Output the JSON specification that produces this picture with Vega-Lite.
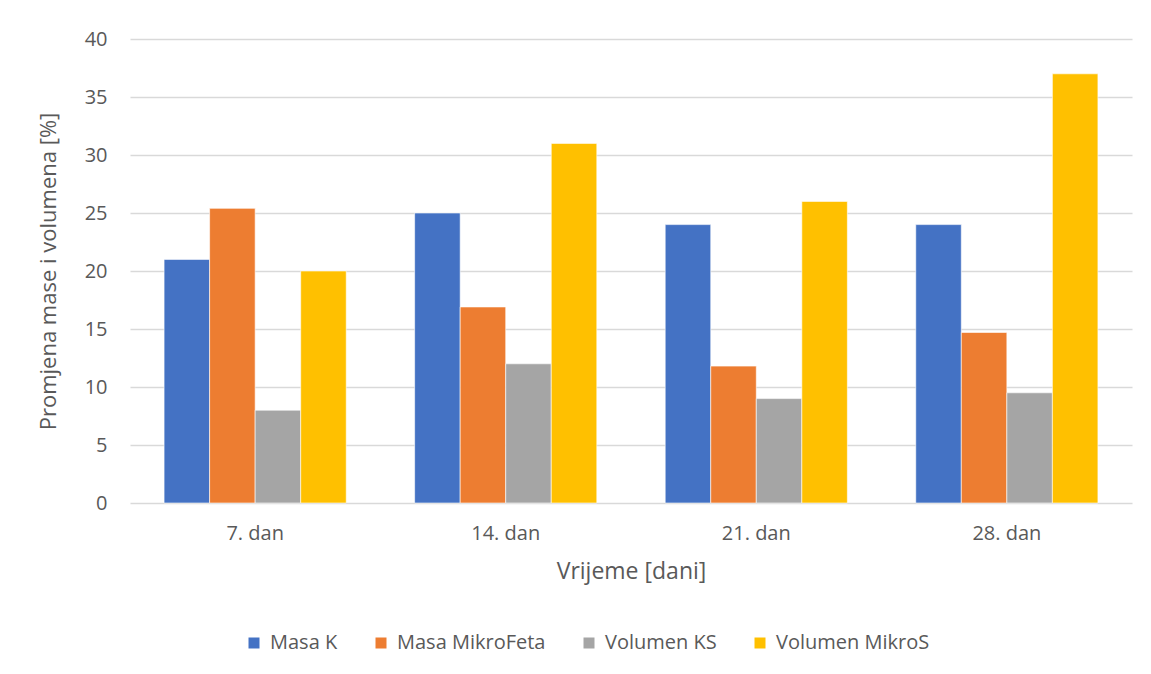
{
  "$schema": "https://vega.github.io/schema/vega-lite/v6.json",
  "width": 1002,
  "height": 464,
  "autosize": {"type": "none"},
  "padding": {"left": 130, "top": 39, "right": 19, "bottom": 171},
  "background": "white",
  "data": {
    "values": [
      {"dan": "7. dan", "serija": "Masa K", "v": 21},
      {"dan": "7. dan", "serija": "Masa MikroFeta", "v": 25.4},
      {"dan": "7. dan", "serija": "Volumen KS", "v": 8},
      {"dan": "7. dan", "serija": "Volumen MikroS", "v": 20},
      {"dan": "14. dan", "serija": "Masa K", "v": 25},
      {"dan": "14. dan", "serija": "Masa MikroFeta", "v": 16.9},
      {"dan": "14. dan", "serija": "Volumen KS", "v": 12},
      {"dan": "14. dan", "serija": "Volumen MikroS", "v": 31},
      {"dan": "21. dan", "serija": "Masa K", "v": 24},
      {"dan": "21. dan", "serija": "Masa MikroFeta", "v": 11.8},
      {"dan": "21. dan", "serija": "Volumen KS", "v": 9},
      {"dan": "21. dan", "serija": "Volumen MikroS", "v": 26},
      {"dan": "28. dan", "serija": "Masa K", "v": 24},
      {"dan": "28. dan", "serija": "Masa MikroFeta", "v": 14.7},
      {"dan": "28. dan", "serija": "Volumen KS", "v": 9.5},
      {"dan": "28. dan", "serija": "Volumen MikroS", "v": 37}
    ]
  },
  "mark": {"type": "bar", "stroke": "white", "strokeWidth": 0.6},
  "encoding": {
    "x": {
      "field": "dan",
      "type": "nominal",
      "sort": ["7. dan", "14. dan", "21. dan", "28. dan"],
      "scale": {"paddingInner": 0.273, "paddingOuter": 0.136},
      "axis": {
        "title": "Vrijeme [dani]",
        "labelAngle": 0,
        "labelFontSize": 20,
        "labelColor": "#595959",
        "labelPadding": 20,
        "ticks": false,
        "domain": false,
        "titleFontSize": 23,
        "titleFontWeight": "normal",
        "titleColor": "#595959",
        "titlePadding": 17
      }
    },
    "xOffset": {
      "field": "serija",
      "type": "nominal",
      "sort": ["Masa K", "Masa MikroFeta", "Volumen KS", "Volumen MikroS"],
      "scale": {"paddingInner": 0, "paddingOuter": 0}
    },
    "y": {
      "field": "v",
      "type": "quantitative",
      "scale": {"domain": [0, 40], "nice": false},
      "axis": {
        "title": "Promjena mase i volumena [%]",
        "values": [0, 5, 10, 15, 20, 25, 30, 35, 40],
        "labelFontSize": 20,
        "labelColor": "#595959",
        "labelPadding": 23,
        "ticks": false,
        "domain": false,
        "gridColor": "#D9D9D9",
        "gridWidth": 1.3,
        "titleFontSize": 22,
        "titleFontWeight": "normal",
        "titleColor": "#595959",
        "titlePadding": 24
      }
    },
    "color": {
      "field": "serija",
      "type": "nominal",
      "sort": ["Masa K", "Masa MikroFeta", "Volumen KS", "Volumen MikroS"],
      "scale": {
        "domain": ["Masa K", "Masa MikroFeta", "Volumen KS", "Volumen MikroS"],
        "range": ["#4472C4", "#ED7D31", "#A5A5A5", "#FFC000"]
      },
      "legend": {
        "title": null,
        "orient": "none",
        "direction": "horizontal",
        "legendX": 114,
        "legendY": 594,
        "columns": 4,
        "columnPadding": 33,
        "symbolType": "square",
        "symbolSize": 121,
        "symbolStrokeWidth": 0,
        "labelFontSize": 20,
        "labelColor": "#595959",
        "labelOffset": 6,
        "padding": 0
      }
    }
  },
  "config": {
    "font": "Open Sans",
    "view": {"stroke": null},
    "axis": {"labelFont": "Open Sans", "titleFont": "Open Sans"},
    "legend": {"labelFont": "Open Sans"}
  }
}
